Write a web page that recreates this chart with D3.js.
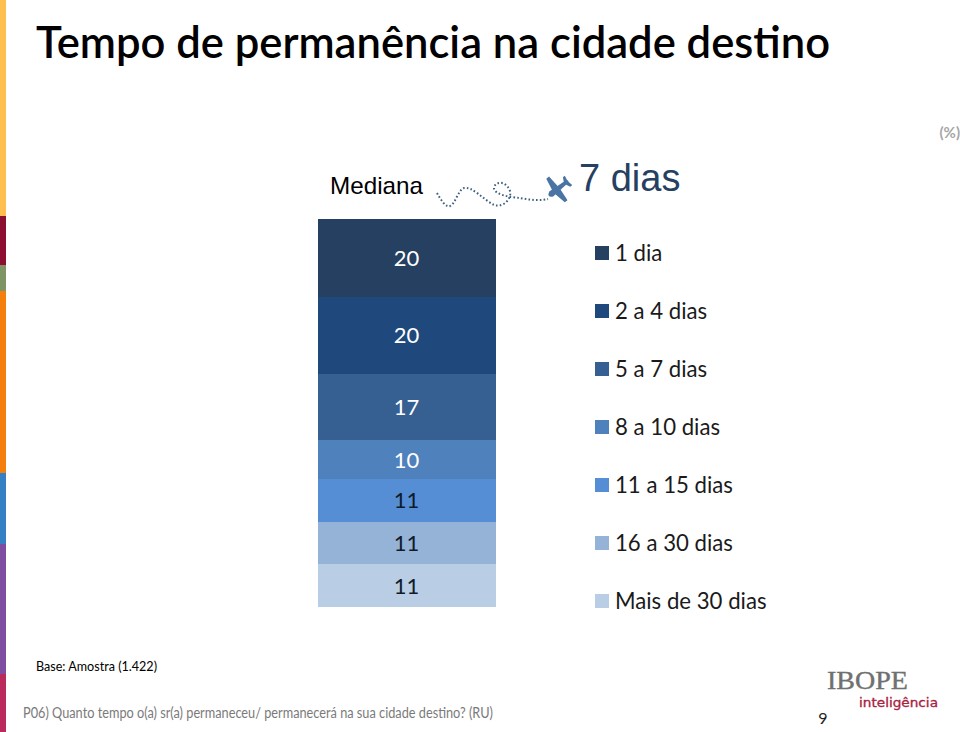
<!DOCTYPE html>
<html><head><meta charset="utf-8">
<script src="https://cdn.jsdelivr.net/npm/d3@7/dist/d3.min.js"></script>
<style>html,body{margin:0;padding:0;background:#fff;overflow:hidden}svg{display:block}text{font-family:Lato,sans-serif}</style>
</head><body><svg id="c" width="960" height="732"></svg>
<script>
const categories=["1 dia","2 a 4 dias","5 a 7 dias","8 a 10 dias","11 a 15 dias","16 a 30 dias","Mais de 30 dias"];
const values=[20,20,17,10,11,11,11];
const colors=["#254061","#1f497d","#376092","#4f81bd","#558ed5","#95b3d7","#b9cde5"];
const labelColors=["#fff","#fff","#fff","#fff","#0f1a2a","#0f1a2a","#0f1a2a"];
const sideStops=[[0,216,"#ffbf4f"],[216,265,"#8c0f32"],[265,291,"#7f9464"],[291,473,"#f57f0c"],[473,544,"#3580c4"],[544,674,"#7e4da0"],[674,732,"#bb2a5c"]];
const svg=d3.select("#c");
svg.selectAll("rect.side").data(sideStops).join("rect").attr("class","side")
 .attr("x",0).attr("width",6).attr("y",d=>d[0]).attr("height",d=>d[1]-d[0]).attr("fill",d=>d[2]);
svg.append("text").attr("x",36).attr("y",58).attr("font-size",43.5).attr("font-weight",600).attr("textLength",794).attr("lengthAdjust","spacingAndGlyphs").text("Tempo de permanência na cidade destino");
svg.append("text").attr("x",960).attr("y",138).attr("text-anchor","end").attr("font-size",15).attr("font-weight",700).attr("fill","#a6a6a6").text("(%)");
svg.append("text").attr("x",330).attr("y",194).attr("font-size",24).attr("textLength",93).attr("lengthAdjust","spacingAndGlyphs").style("font-family","'Liberation Sans'").text("Mediana");
svg.append("text").attr("x",579).attr("y",191).attr("font-size",38).attr("fill","#254061").style("font-family","'Liberation Sans'").text("7 dias");
// dotted flight path and plane icon
svg.append("path").attr("d","M437 193 C441 200 446 208 450 206 C456 203 458 190 464 188 C472 186 484 200 494 205 C504 208 512 198 510 191 C507 182 497 180 494 187 C493 195 510 197 520 198 C530 200 540 201 548 199")
 .attr("fill","none").attr("stroke","#3f5f80").attr("stroke-width",2).attr("stroke-dasharray","1.6 2.2");
svg.append("g").attr("transform","translate(557.5,189) rotate(142)").call(g=>{
 g.append("path").attr("fill","#4a74a4").attr("d","M-13 -1.6 L8 -3.2 Q14 0 8 3.2 L-13 1.6 Q-14 0 -13 -1.6Z");
 g.append("path").attr("fill","#4a74a4").attr("d","M-2 -2 L-1 -15 L2.5 -15 L5 -2Z M-2 2 L-1 15 L2.5 15 L5 2Z M-13 -1 L-14 -6 L-11.5 -6 L-9 -1Z M-13 1 L-14 6 L-11.5 6 L-9 1Z");
});
const y=d3.scaleLinear().domain([0,d3.sum(values)]).range([219,607]);
const x=d3.scaleBand().domain(["Total"]).range([318,496]);
let cum=0;const segs=values.map((v,i)=>{const s={v,i,a:cum,b:cum+v};cum+=v;return s;});
svg.selectAll("rect.seg").data(segs).join("rect").attr("class","seg").attr("shape-rendering","crispEdges")
 .attr("x",x("Total")).attr("width",x.bandwidth()).attr("y",d=>y(d.a)).attr("height",d=>y(d.b)-y(d.a)).attr("fill",d=>colors[d.i]);
svg.selectAll("text.val").data(segs).join("text").attr("class","val")
 .attr("x",x("Total")+x.bandwidth()/2-0.5).attr("y",d=>(y(d.a)+y(d.b))/2+8).attr("text-anchor","middle")
 .attr("font-size",22).attr("fill",d=>labelColors[d.i]).text(d=>d.v);
const ly=d3.scalePoint().domain(categories).range([253,601]);
svg.selectAll("rect.key").data(categories).join("rect").attr("class","key")
 .attr("x",595).attr("width",14).attr("height",14).attr("y",d=>ly(d)-7).attr("fill",(d,i)=>colors[i]);
svg.selectAll("text.leg").data(categories).join("text").attr("class","leg")
 .attr("x",615).attr("y",d=>ly(d)+8).attr("font-size",22.2).attr("fill","#1a1a1a").text(d=>d);
svg.append("text").attr("x",36).attr("y",671).attr("font-size",13.5).attr("textLength",121).attr("lengthAdjust","spacingAndGlyphs").text("Base: Amostra (1.422)");
svg.append("text").attr("x",23).attr("y",718).attr("font-size",14.5).attr("fill","#7a7a7a").attr("textLength",470).attr("lengthAdjust","spacingAndGlyphs").text("P06) Quanto tempo o(a) sr(a) permaneceu/ permanecerá na sua cidade destino? (RU)");
svg.append("text").attr("x",827).attr("y",689).attr("font-size",26).attr("fill","#707070").attr("stroke","#707070").attr("stroke-width",0.4).attr("textLength",81).attr("lengthAdjust","spacingAndGlyphs").style("font-family","'Liberation Serif'").text("IBOPE");
svg.append("text").attr("x",859).attr("y",706.5).attr("font-size",13).attr("fill","#a8233f").attr("stroke","#a8233f").attr("stroke-width",0.35).attr("textLength",79).attr("lengthAdjust","spacingAndGlyphs").style("font-family","'DejaVu Sans'").text("inteligência");
svg.append("text").attr("x",823).attr("y",724).attr("text-anchor","middle").attr("font-size",16).attr("fill","#222").text("9");
</script></body></html>
